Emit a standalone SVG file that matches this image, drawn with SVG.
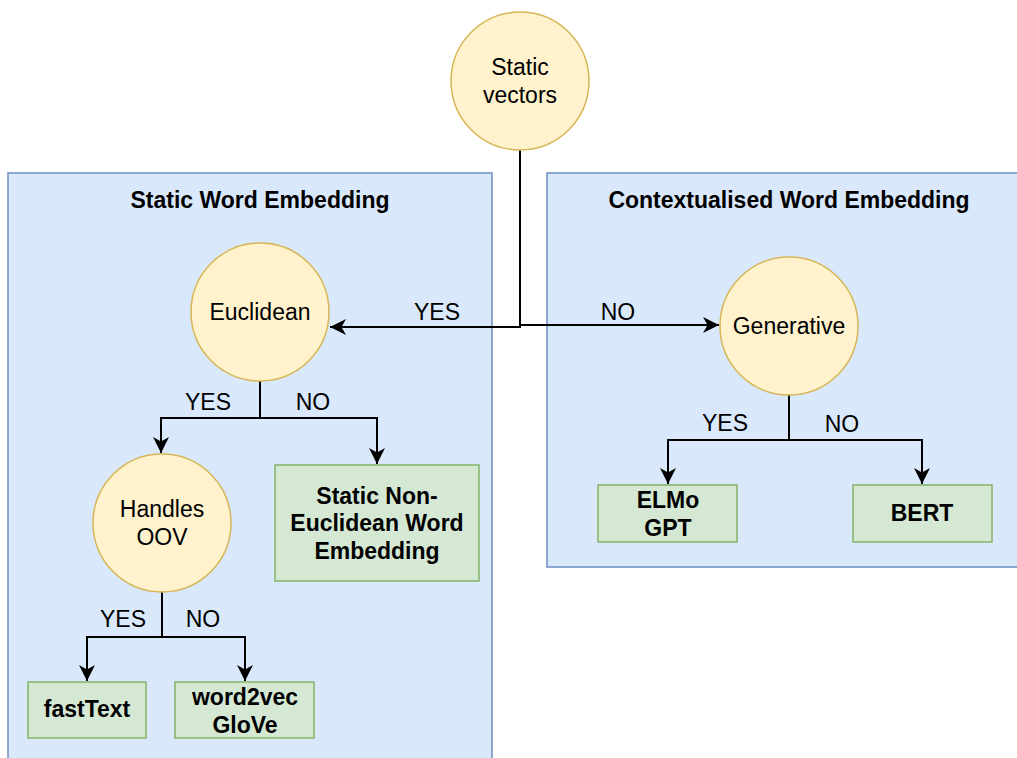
<svg xmlns="http://www.w3.org/2000/svg" width="1017" height="758" viewBox="0 0 1017 758">
  <style>
    .container { fill: #dae8fc; stroke: #6c8ebf; stroke-width: 1.5; }
    .decision { fill: #fff2cc; stroke: #d6b656; stroke-width: 1.5; }
    .leaf { fill: #d5e8d4; stroke: #82b366; stroke-width: 1.5; }
    text { font-family: "Liberation Sans", Arial, sans-serif; font-size: 23px; fill: #000; text-anchor: middle; }
    .bold { font-weight: bold; }
    .edge { fill: none; stroke: #000; stroke-width: 2; }
  </style>
  <defs>
    <marker id="arrow" markerUnits="userSpaceOnUse" markerWidth="18" markerHeight="18" viewBox="0 0 18 18" refX="16" refY="9" orient="auto">
      <path d="M0,1 L16,9 L0,17 L4.5,9 Z" fill="#000"/>
    </marker>
  </defs>

  <!-- grouping containers -->
  <g id="static-word-embedding">
    <rect class="container" x="8" y="173" width="484" height="600"/>
    <text class="bold" x="260" y="208">Static Word Embedding</text>
  </g>
  <g id="contextualised-word-embedding">
    <rect class="container" x="547" y="173" width="480" height="394"/>
    <text class="bold" x="789" y="208">Contextualised Word Embedding</text>
  </g>

  <!-- connectors -->
  <g id="connectors">
    <path class="edge" d="M520,150 V327 H330" marker-end="url(#arrow)"/>
    <path class="edge" d="M520,150 V325 H719" marker-end="url(#arrow)"/>
    <path class="edge" d="M260,381 V418 H161 V453" marker-end="url(#arrow)"/>
    <path class="edge" d="M260,418 H377 V464" marker-end="url(#arrow)"/>
    <path class="edge" d="M162,592 V637 H87 V681" marker-end="url(#arrow)"/>
    <path class="edge" d="M162,637 H245 V681" marker-end="url(#arrow)"/>
    <path class="edge" d="M789,395 V440 H668 V484" marker-end="url(#arrow)"/>
    <path class="edge" d="M789,440 H922 V484" marker-end="url(#arrow)"/>
    <text x="437" y="320">YES</text>
    <text x="618" y="320">NO</text>
    <text x="208" y="410">YES</text>
    <text x="313" y="410">NO</text>
    <text x="123" y="627">YES</text>
    <text x="203" y="627">NO</text>
    <text x="725" y="431">YES</text>
    <text x="842" y="432">NO</text>
  </g>

  <!-- decision nodes -->
  <g id="static-vectors">
    <circle class="decision" cx="520" cy="81" r="69"/>
    <text x="520" y="75">Static</text>
    <text x="520" y="103">vectors</text>
  </g>
  <g id="euclidean">
    <circle class="decision" cx="260" cy="312" r="69"/>
    <text x="260" y="320">Euclidean</text>
  </g>
  <g id="handles-oov">
    <circle class="decision" cx="162" cy="523" r="69"/>
    <text x="162" y="517">Handles</text>
    <text x="162" y="545">OOV</text>
  </g>
  <g id="generative">
    <circle class="decision" cx="789" cy="326" r="69"/>
    <text x="789" y="334">Generative</text>
  </g>

  <!-- leaf nodes -->
  <g id="non-euclidean">
    <rect class="leaf" x="275" y="465" width="204" height="116"/>
    <text class="bold" x="377" y="504">Static Non-</text>
    <text class="bold" x="377" y="531">Euclidean Word</text>
    <text class="bold" x="377" y="559">Embedding</text>
  </g>
  <g id="fasttext">
    <rect class="leaf" x="28" y="682" width="118" height="56"/>
    <text class="bold" x="87" y="717">fastText</text>
  </g>
  <g id="word2vec-glove">
    <rect class="leaf" x="175" y="682" width="139" height="56"/>
    <text class="bold" x="245" y="705">word2vec</text>
    <text class="bold" x="245" y="733">GloVe</text>
  </g>
  <g id="elmo-gpt">
    <rect class="leaf" x="598" y="485" width="139" height="57"/>
    <text class="bold" x="668" y="508">ELMo</text>
    <text class="bold" x="668" y="536">GPT</text>
  </g>
  <g id="bert">
    <rect class="leaf" x="853" y="485" width="139" height="57"/>
    <text class="bold" x="922" y="521">BERT</text>
  </g>
</svg>
